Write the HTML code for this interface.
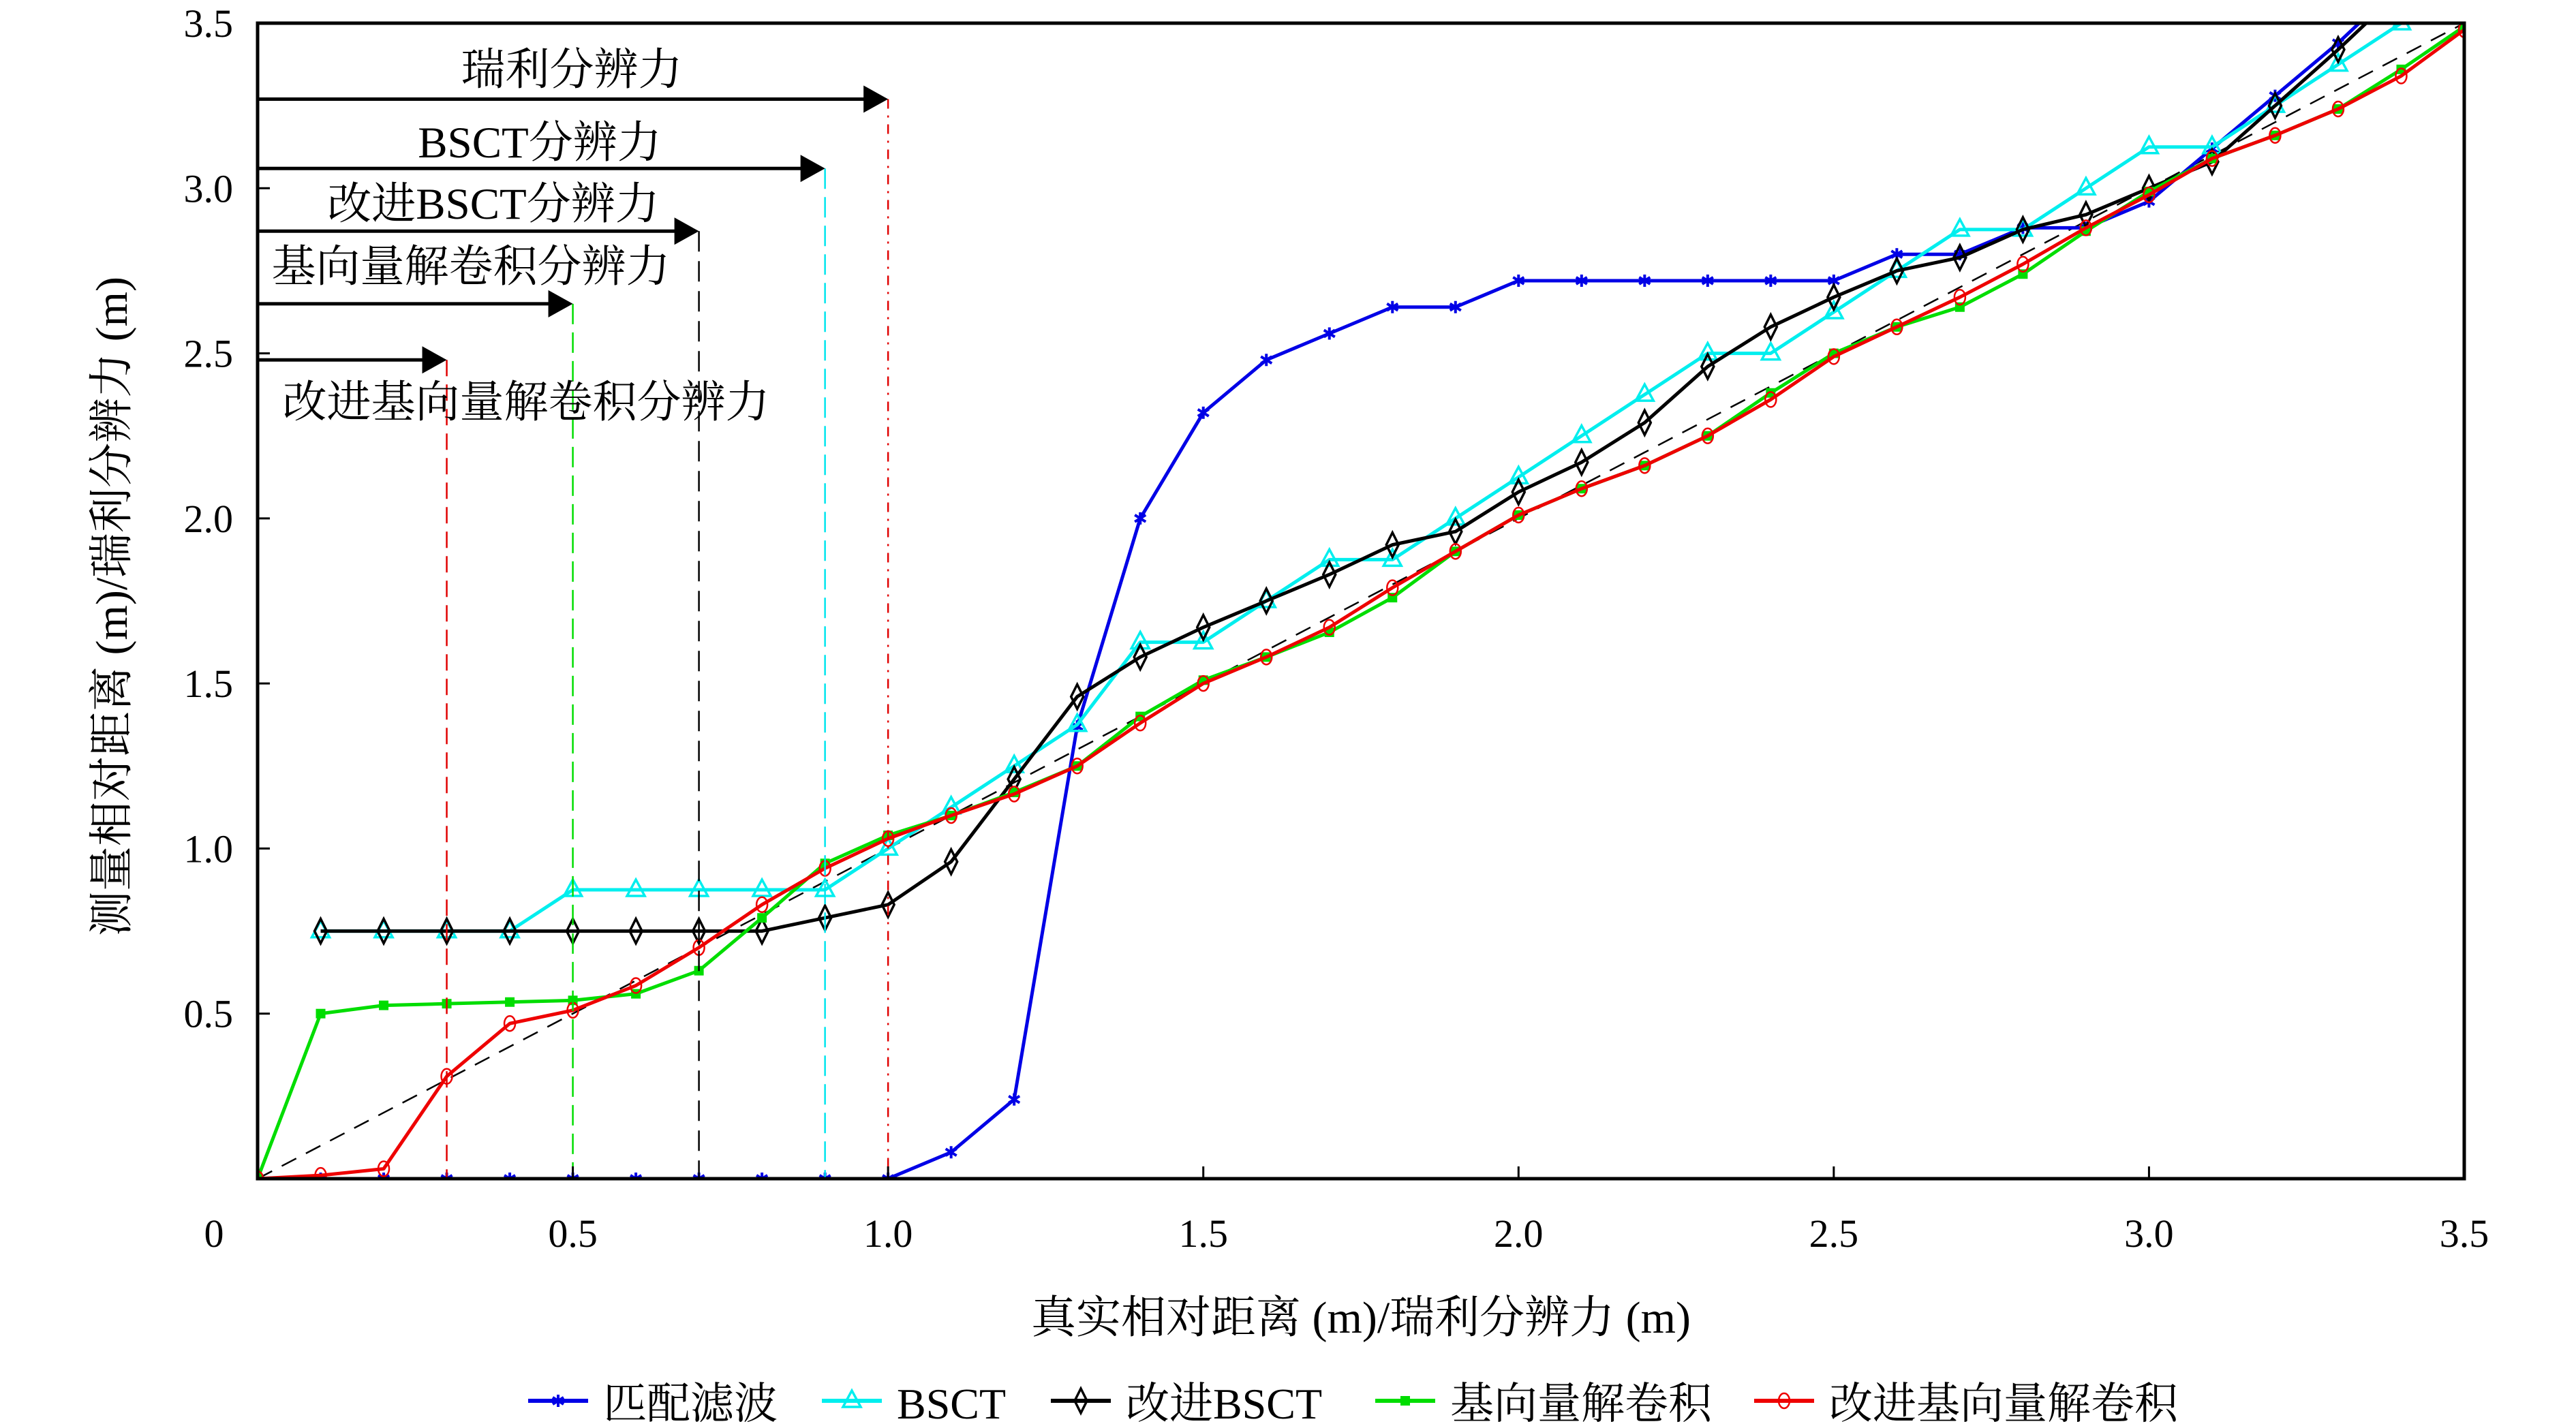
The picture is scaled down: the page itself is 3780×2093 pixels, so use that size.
<!DOCTYPE html>
<html><head><meta charset="utf-8"><style>
html,body{margin:0;padding:0;background:#fff}
svg{display:block}
text{font-family:"Liberation Serif","Noto Serif CJK SC",serif;fill:#000}
</style></head><body>
<svg id="chart" width="3780" height="2093" viewBox="0 0 3780 2093" xmlns="http://www.w3.org/2000/svg">
<defs><clipPath id="pc"><rect x="378" y="34" width="3238" height="1696"/></clipPath></defs>
<rect width="3780" height="2093" fill="#fff"/>
<g id="grid"></g>
<g id="marks" clip-path="url(#pc)"></g>
<g id="annot"></g>
<rect x="378" y="34" width="3238" height="1696" fill="none" stroke="#000" stroke-width="5"/>
<g id="axes"></g>
<text x="1997" y="1956" font-size="66" text-anchor="middle">真实相对距离 (m)/瑞利分辨力 (m)</text>
<text transform="translate(186,890) rotate(-90)" font-size="66" text-anchor="middle">测量相对距离 (m)/瑞利分辨力 (m)</text>
<g id="legend"></g>
</svg>
<script>
const xs=[0,0.1,0.2,0.3,0.4,0.5,0.6,0.7,0.8,0.9,1.0,1.1,1.2,1.3,1.4,1.5,1.6,1.7,1.8,1.9,2.0,2.1,2.2,2.3,2.4,2.5,2.6,2.7,2.8,2.9,3.0,3.1,3.2,3.3,3.4,3.5];
const mfVals=[0,0,0,0,0,0,0,0,0,0,0,0.08,0.24,1.37,2.0,2.32,2.48,2.56,2.64,2.64,2.72,2.72,2.72,2.72,2.72,2.72,2.80,2.80,2.88,2.88,2.96,3.12,3.28,3.44,3.62,3.8];
const bsctVals=[null,0.75,0.75,0.75,0.75,0.875,0.875,0.875,0.875,0.875,1.0,1.125,1.25,1.375,1.625,1.625,1.75,1.875,1.875,2.0,2.125,2.25,2.375,2.5,2.5,2.625,2.75,2.875,2.875,3.0,3.125,3.125,3.25,3.375,3.5,null];
const ibsctVals=[null,0.75,0.75,0.75,0.75,0.75,0.75,0.75,0.75,0.79,0.83,0.96,1.21,1.46,1.58,1.67,1.75,1.83,1.92,1.96,2.08,2.17,2.29,2.46,2.58,2.67,2.75,2.79,2.875,2.92,3.0,3.08,3.25,3.42,3.6,null];
const bvdVals=[0,0.50,0.525,0.53,0.535,0.54,0.56,0.63,0.79,0.955,1.04,1.10,1.17,1.25,1.40,1.51,1.58,1.655,1.76,1.90,2.01,2.09,2.16,2.25,2.38,2.50,2.58,2.64,2.74,2.87,2.99,3.09,3.16,3.24,3.36,3.49];
const ibvdVals=[0,0.01,0.03,0.31,0.47,0.51,0.585,0.70,0.83,0.94,1.03,1.10,1.165,1.25,1.38,1.50,1.58,1.67,1.79,1.90,2.01,2.09,2.16,2.25,2.36,2.49,2.58,2.67,2.77,2.88,2.98,3.09,3.16,3.24,3.34,3.48];
const xTicks=[0,0.5,1.0,1.5,2.0,2.5,3.0,3.5];
const xTickLabels=["0","0.5","1.0","1.5","2.0","2.5","3.0","3.5"];
const yTicks=[0.5,1.0,1.5,2.0,2.5,3.0,3.5];
const yTickLabels=["0.5","1.0","1.5","2.0","2.5","3.0","3.5"];
const resNames=["瑞利分辨力","BSCT分辨力","改进BSCT分辨力","基向量解卷积分辨力","改进基向量解卷积分辨力"];
const resX=[1.0,0.9,0.7,0.5,0.3];
const resY=[3.27,3.06,2.87,2.65,2.48];

const NS="http://www.w3.org/2000/svg";
const X=v=>378+v/3.5*3238, Y=v=>1730-v/3.5*1696;
function mk(tag,attrs,parent){const e=document.createElementNS(NS,tag);for(const k in attrs)e.setAttribute(k,attrs[k]);parent.appendChild(e);return e;}
const axes=document.getElementById('axes'),marks=document.getElementById('marks'),annot=document.getElementById('annot'),leg=document.getElementById('legend');

xTicks.forEach((t,i)=>{
  const l=mk('line',{x1:X(t),x2:X(t),y1:1730,y2:1712,stroke:'#000','stroke-width':3},axes);
  
  
  const tx=mk('text',{x:i===0?X(t)-64:X(t),y:1830,'font-size':58,'text-anchor':'middle'},axes);
  tx.textContent=xTickLabels[i];
  
  
});
yTicks.forEach((t,i)=>{
  const l=mk('line',{x1:378,x2:396,y1:Y(t),y2:Y(t),stroke:'#000','stroke-width':3},axes);
  
  
  const tx=mk('text',{x:342,y:Y(t)+20,'font-size':58,'text-anchor':'end'},axes);
  tx.textContent=yTickLabels[i];
  
  
});

const ref=mk('line',{x1:X(0),y1:Y(0),x2:X(3.5),y2:Y(3.5),stroke:'#000','stroke-width':2.5,'stroke-dasharray':'24 16'},marks);



const vColors=['#e00000','#00e5ee','#000','#00dd00','#e00000'];
const vDash=['14 10 3 10','30 12','30 14','30 12','24 12'];
const labelPos=[[839,124],[792,231],[724,321],[691,413],[772,612]];
resX.forEach((rx,i)=>{
  const v=mk('line',{x1:X(rx),x2:X(rx),y1:Y(resY[i]),y2:1730,stroke:vColors[i],'stroke-width':2.5,'stroke-dasharray':vDash[i]},annot);
  
  
  const ay=Y(resY[i]), ax=X(rx);
  const a=mk('line',{x1:378,y1:ay,x2:ax-34,y2:ay,stroke:'#000','stroke-width':5},annot);
  
  
  const h=mk('polygon',{points:`${ax},${ay} ${ax-36},${ay-20} ${ax-36},${ay+20}`,fill:'#000'},annot);
  
  
  const t=mk('text',{x:labelPos[i][0],y:labelPos[i][1],'font-size':65,'text-anchor':'middle'},annot);
  t.textContent=resNames[i];
  
  
});

function marker(type,cx,cy,color,g){
  let e;
  if(type==='star'){e=mk('g',{},g);
    mk('line',{x1:cx,y1:cy-9,x2:cx,y2:cy+9,stroke:color,'stroke-width':4},e);
    mk('line',{x1:cx-8,y1:cy-5,x2:cx+8,y2:cy+5,stroke:color,'stroke-width':4},e);
    mk('line',{x1:cx-8,y1:cy+5,x2:cx+8,y2:cy-5,stroke:color,'stroke-width':4},e);}
  else if(type==='tri')e=mk('polygon',{points:`${cx},${cy-15} ${cx-13},${cy+9} ${cx+13},${cy+9}`,fill:'none',stroke:color,'stroke-width':3.5},g);
  else if(type==='dia')e=mk('polygon',{points:`${cx},${cy-18} ${cx-9},${cy} ${cx},${cy+18} ${cx+9},${cy}`,fill:'none',stroke:color,'stroke-width':3.5},g);
  else if(type==='sq')e=mk('rect',{x:cx-7,y:cy-7,width:14,height:14,fill:color},g);
  else e=mk('ellipse',{cx:cx,cy:cy,rx:8,ry:11,fill:'none',stroke:color,'stroke-width':2.5},g);
  
  
}
const series=[
  {name:'matched-filter',vals:mfVals,color:'#0000e6',m:'star'},
  {name:'bsct',vals:bsctVals,color:'#00eeee',m:'tri'},
  {name:'improved-bsct',vals:ibsctVals,color:'#000',m:'dia'},
  {name:'basis-vector-deconv',vals:bvdVals,color:'#00dd00',m:'sq'},
  {name:'improved-basis-vector-deconv',vals:ibvdVals,color:'#ee0000',m:'circ'}
];
series.forEach(s=>{
  const g=mk('g',{},marks);
  
  
  const pts=[];
  s.vals.forEach((v,i)=>{if(v!==null)pts.push([X(xs[i]),Y(v)]);});
  const pl=mk('polyline',{points:pts.map(p=>p.join(',')).join(' '),fill:'none',stroke:s.color,'stroke-width':5,'stroke-linejoin':'round'},g);
  
  
  pts.forEach(p=>marker(s.m,p[0],p[1],s.color,g));
});

const legNames=["匹配滤波","BSCT","改进BSCT","基向量解卷积","改进基向量解卷积"];
const legLineX=[775,1206,1542,2018,2574];
series.forEach((s,i)=>{
  const g=mk('g',{},leg);
  
  
  const x0=legLineX[i];
  mk('line',{x1:x0,y1:2056,x2:x0+88,y2:2056,stroke:s.color,'stroke-width':6},g);
  marker(s.m,x0+44,2056,s.color,g);
  const t=mk('text',{x:x0+110,y:2082,'font-size':64},g);
  t.textContent=legNames[i];
});
</script>
</body></html>
